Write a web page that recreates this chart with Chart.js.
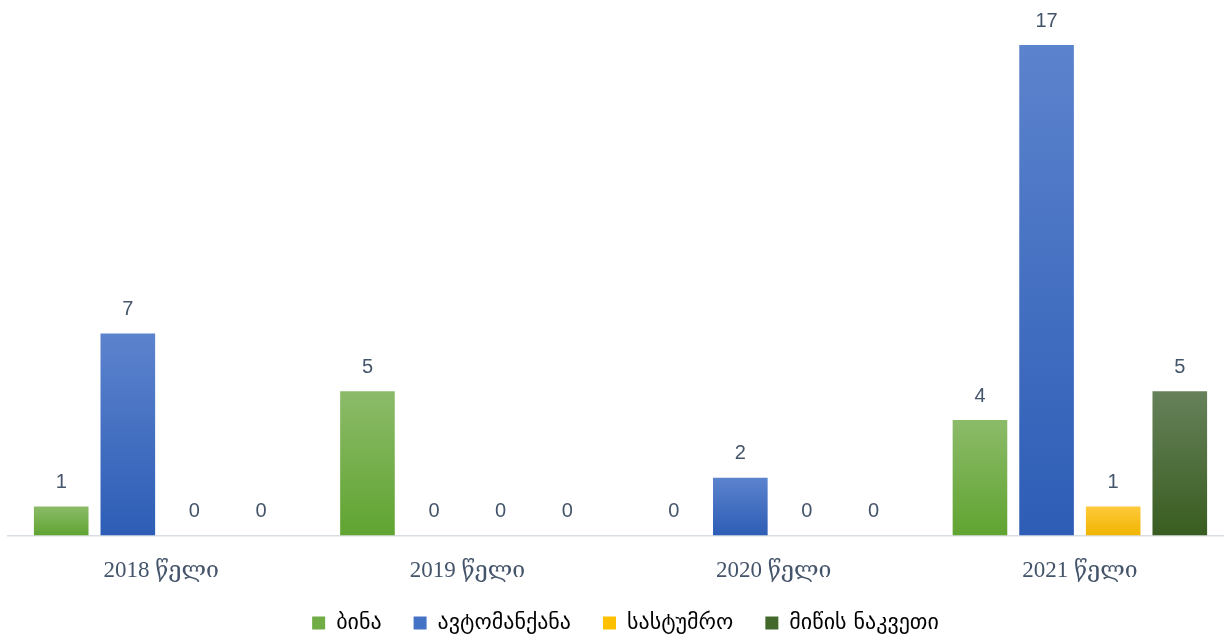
<!DOCTYPE html>
<html>
<head>
<meta charset="utf-8">
<script src="https://cdn.jsdelivr.net/npm/chart.js@4.4.1/dist/chart.umd.min.js"></script>
<style>
  html, body { margin: 0; padding: 0; background: #fff; overflow: hidden; }
  #wrap { width: 1250px; height: 665px; }
</style>
</head>
<body>
<div id="wrap"><canvas id="chart"></canvas></div>
<script>
// ---- data ----
const years = ['2018 წელი', '2019 წელი', '2020 წელი', '2021 წელი'];
const seriesNames = ['ბინა', 'ავტომანქანა', 'სასტუმრო', 'მიწის ნაკვეთი'];
const apartment = [1, 5, 0, 4];
const car = [7, 0, 2, 17];
const hotel = [0, 0, 0, 1];
const land = [0, 0, 0, 5];

// top / bottom colours of each bar's vertical gradient
const shades = [
  ['#8cbb69', '#60a431'],
  ['#5c83cd', '#2d5db6'],
  ['#ffca3c', '#f0b400'],
  ['#66815a', '#395d20']
];
const legendColors = ['#70ad47', '#4472c4', '#ffc000', '#43682b'];
const textColor = '#44546a';

// gradient spans only the bar itself, top to baseline
function barFill(idx) {
  return (ctx) => {
    const chart = ctx.chart;
    const [top, bottom] = shades[idx];
    if (!chart.chartArea || ctx.type !== 'data') return bottom;
    const y = chart.scales.y;
    const v = ctx.raw || 0;
    const y0 = y.getPixelForValue(0);
    const y1 = y.getPixelForValue(v);
    if (Math.abs(y0 - y1) < 1) return bottom;
    const g = chart.ctx.createLinearGradient(0, y1, 0, y0);
    g.addColorStop(0, top);
    g.addColorStop(1, bottom);
    return g;
  };
}

// value labels above every bar (zeros too)
const valueLabels = {
  id: 'valueLabels',
  afterDatasetsDraw(chart) {
    const { ctx } = chart;
    ctx.save();
    ctx.font = '20px "Liberation Sans", "DejaVu Sans", sans-serif';
    ctx.fillStyle = textColor;
    ctx.textAlign = 'center';
    ctx.textBaseline = 'middle';
    chart.data.datasets.forEach((ds, i) => {
      chart.getDatasetMeta(i).data.forEach((bar, j) => {
        ctx.fillText(String(ds.data[j]), bar.x, bar.y - 24);
      });
    });
    ctx.restore();
  }
};

// pull the legend row up closer to the axis labels
const legendNudge = {
  id: 'legendNudge',
  afterLayout(chart) {
    const lg = chart.legend;
    if (!lg) return;
    lg.top -= 19; lg.bottom -= 19;
    lg.left += 5; lg.right += 5;
  }
};

const allSeries = [apartment, car, hotel, land];

new Chart(document.getElementById('chart'), {
  type: 'bar',
  data: {
    labels: years,
    datasets: allSeries.map((vals, i) => ({
      label: seriesNames[i],
      data: vals,
      backgroundColor: barFill(i),
      borderWidth: 0,
      categoryPercentage: 0.87,
      barPercentage: 0.82
    }))
  },
  options: {
    responsive: true,
    maintainAspectRatio: false,
    animation: false,
    layout: { padding: { top: 45, left: 8, right: 17, bottom: 2 } },
    plugins: {
      tooltip: { enabled: false },
      legend: {
        position: 'bottom',
        labels: {
          boxWidth: 13,
          boxHeight: 13,
          padding: 32,
          color: '#4d5563',
          font: { size: 22, family: '"DejaVu Sans", "Liberation Sans", sans-serif' },
          generateLabels: () => seriesNames.map((name, i) => ({
            text: name,
            fillStyle: legendColors[i],
            strokeStyle: legendColors[i],
            lineWidth: 0,
            datasetIndex: i
          }))
        }
      }
    },
    scales: {
      x: {
        grid: { display: false },
        border: { display: true, color: '#d9dde4', width: 1.5 },
        ticks: {
          padding: 14,
          color: textColor,
          font: { size: 23, family: '"Liberation Serif", "DejaVu Serif", serif' }
        }
      },
      y: {
        display: false,
        min: 0,
        max: 17
      }
    }
  },
  plugins: [valueLabels, legendNudge]
});
</script>
</body>
</html>
